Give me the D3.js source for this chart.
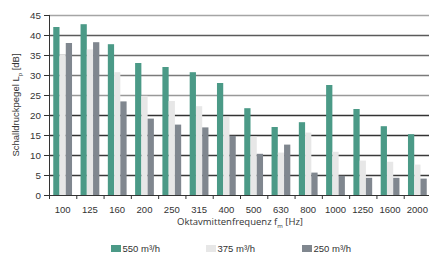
<!DOCTYPE html>
<html>
<head>
<meta charset="utf-8">
<script src="https://cdn.jsdelivr.net/npm/d3@7"></script>
<style>
    body { margin: 0; background: #fff; }
    text { font-family: "Liberation Sans", Arial, sans-serif; fill: #333; }
</style>
</head>
<body>
<div id="chart"></div>
<script>

    // data
    var categories = ["100", "125", "160", "200", "250", "315", "400", "500", "630", "800", "1000", "1250", "1600", "2000"];
    var seriesNames = ["550 m³/h", "375 m³/h", "250 m³/h"];
    var values550 = [42, 42.7, 37.7, 33, 32, 30.7, 28, 21.7, 17, 18.2, 27.5, 21.5, 17.2, 15.2];
    var values375 = [35, 36.4, 30.7, 24.8, 23.5, 22.2, 19.5, 14.6, 10.6, 15.6, 10.8, 8.6, 8.3, 7.6];
    var values250 = [38, 38.2, 23.4, 19.1, 17.6, 16.9, 14.8, 10.3, 12.6, 5.6, 4.8, 4.3, 4.3, 4.1];
    var yTicks = [0, 5, 10, 15, 20, 25, 30, 35, 40, 45];

    var colors = ["#4b9a87", "#e7e7e7", "#80878f"];
    // gridline tones as they appear in the picture (top lines lighter)
    var gridColors = {5: "#3a3a3a", 10: "#3a3a3a", 15: "#333", 20: "#333", 25: "#999", 30: "#7a7a7a", 35: "#6a6a6a", 40: "#5a5a5a", 45: "#a5a5a5"};

    var series = [values550, values375, values250];

    var W = 429, H = 253;
    var margin = {top: 15, left: 49, bottom: 58};
    var plotRight = 431;

    var svg = d3.select("#chart").append("svg")
        .attr("width", W)
        .attr("height", H);

    var x = d3.scaleBand()
        .domain(categories)
        .range([margin.left, plotRight])
        .padding(0);

    var x1 = d3.scaleBand()
        .domain(d3.range(series.length))
        .range([0, x.bandwidth()])
        .paddingInner(0)
        .paddingOuter(0.68);

    var y = d3.scaleLinear()
        .domain([0, 45])
        .range([H - margin.bottom, margin.top]);

    // gridlines
    svg.append("g")
        .selectAll("line")
        .data(yTicks.filter(function (d) { return d > 0; }))
        .enter()
        .append("line")
        .attr("x1", margin.left)
        .attr("x2", W)
        .attr("y1", function (d) { return y(d) + 0.5; })
        .attr("y2", function (d) { return y(d) + 0.5; })
        .attr("stroke", function (d) { return gridColors[d]; })
        .attr("stroke-width", 1.3);

    // bars
    var groups = svg.append("g")
        .selectAll("g")
        .data(categories)
        .enter()
        .append("g")
        .attr("transform", function (d) { return "translate(" + x(d) + ",0)"; });

    groups.selectAll("rect")
        .data(function (d, i) { return series.map(function (s, k) { return {k: k, v: s[i]}; }); })
        .enter()
        .append("rect")
        .attr("x", function (d) { return x1(d.k); })
        .attr("width", x1.bandwidth())
        .attr("y", function (d) { return y(d.v); })
        .attr("height", function (d) { return y(0) - y(d.v); })
        .attr("fill", function (d) { return colors[d.k]; });

    // y axis
    var yAxis = svg.append("g")
        .attr("transform", "translate(" + margin.left + ",0)")
        .call(d3.axisLeft(y).tickValues(yTicks).tickSize(5).tickPadding(3));
    yAxis.selectAll("text").style("font-size", "9.8px").style("fill", "#333");
    yAxis.selectAll("line, path").attr("stroke", "#333");
    yAxis.select(".domain").attr("d", "M0.5," + y(45) + "V" + y(0));

    // x axis
    var xAxis = svg.append("g")
        .attr("transform", "translate(0," + y(0) + ")")
        .call(d3.axisBottom(x).tickSize(0).tickPadding(11));
    xAxis.selectAll("text").style("font-size", "9.5px").style("fill", "#333");
    xAxis.select(".domain").attr("d", "M" + margin.left + ",0.5H" + W).attr("stroke", "#333");

    // boundary ticks between categories
    svg.append("g")
        .selectAll("line")
        .data(categories)
        .enter()
        .append("line")
        .attr("x1", function (d) { return x(d) + 0.5; })
        .attr("x2", function (d) { return x(d) + 0.5; })
        .attr("y1", y(0))
        .attr("y2", y(0) + 4)
        .attr("stroke", "#333");

    // x axis title
    var xt = svg.append("text")
        .attr("x", (margin.left + plotRight) / 2)
        .attr("y", 225)
        .style("text-anchor", "middle")
        .style("font-family", "'Open Sans', sans-serif")
        .style("font-size", "9.5px")
        .text("Oktavmittenfrequenz f");
    xt.append("tspan").attr("dy", 2.5).style("font-size", "6px").text("m");
    xt.append("tspan").attr("dy", -2.5).text(" [Hz]");

    // y axis title
    var yt = svg.append("text")
        .attr("transform", "translate(19," + ((y(0) + y(45)) / 2) + ") rotate(-90)")
        .style("text-anchor", "middle")
        .style("font-size", "9.5px")
        .text("Schalldruckpegel L");
    yt.append("tspan").attr("dy", 2.5).style("font-size", "6px").text("p");
    yt.append("tspan").attr("dy", -2.5).text(" [dB]");

    // legend
    var legendX = [111, 206, 302];
    var legend = svg.append("g")
        .selectAll("g")
        .data(seriesNames)
        .enter()
        .append("g")
        .attr("transform", function (d, i) { return "translate(" + legendX[i] + ",245)"; });

    legend.append("rect")
        .attr("width", 10)
        .attr("height", 7)
        .attr("fill", function (d, i) { return colors[i]; });

    legend.append("text")
        .attr("x", 11.5)
        .attr("y", 7)
        .style("font-size", "9.5px")
        .text(function (d) { return d; });

</script>
</body>
</html>
